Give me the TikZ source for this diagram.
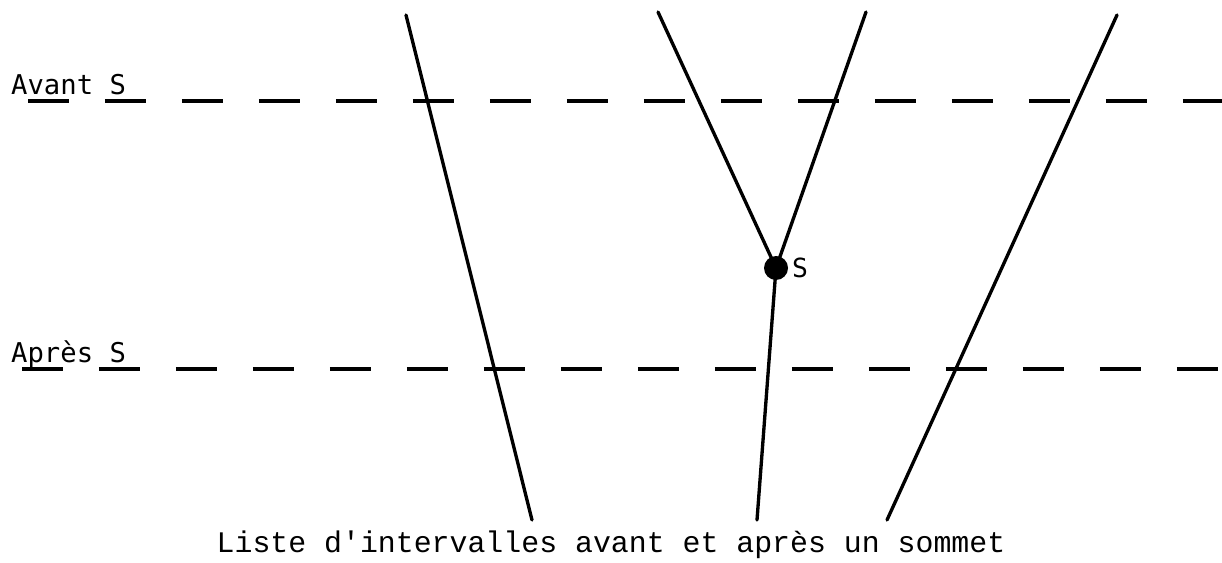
\documentclass[tikz,border=0pt]{standalone}
\usepackage{fontspec}
\newfontfamily\labelfont{DejaVu Sans Mono}
\newfontfamily\capfont{Liberation Mono}
\usetikzlibrary{calc}

\begin{document}
\begin{tikzpicture}[
  x=0.02cm, y=-0.02cm,
  edge/.style={line width=1.9pt, line cap=round},
  level/.style={line width=1.8pt, dash pattern=on 0.82cm off 0.72cm},
  vertex/.style={circle, fill=black, inner sep=0pt, minimum size=0.48cm},
  lbl/.style={font=\labelfont\fontsize{15.5}{18}\selectfont, anchor=base west}
]
\useasboundingbox (0,0) rectangle (1222,563);

% niveaux avant / apres
\coordinate (av0) at (28,101);
\coordinate (av1) at (1222,101);
\coordinate (ap0) at (22,369);
\coordinate (ap1) at (1222,369);
\draw[level] (av0) -- (av1);
\draw[level] (ap0) -- (ap1);
\node[lbl] (avant) at (5,95) {Avant S};
\node[lbl] (apres) at (5,362) {Après S};

% intervalles
\coordinate (a1) at (406,15);
\coordinate (a2) at (532,520);
\coordinate (b1) at (658,12);
\coordinate (c1) at (866,12);
\coordinate (d2) at (757,520);
\coordinate (e1) at (1117,15);
\coordinate (e2) at (887,520);
\node[vertex] (s) at (776,268) {};
\node[font=\labelfont\fontsize{15}{16}\selectfont, anchor=west, inner sep=2pt] (slbl) at (s.east) {S};
\draw[edge] (a1) -- (a2);
\draw[edge] (b1) -- (s.center);
\draw[edge] (c1) -- (s.center);
\draw[edge] (s.center) -- (d2);
\draw[edge] (e1) -- (e2);

\node[font=\capfont\fontsize{17}{19}\selectfont] (cap) at (611,545) {Liste d'intervalles avant et après un sommet};
\end{tikzpicture}
\end{document}
